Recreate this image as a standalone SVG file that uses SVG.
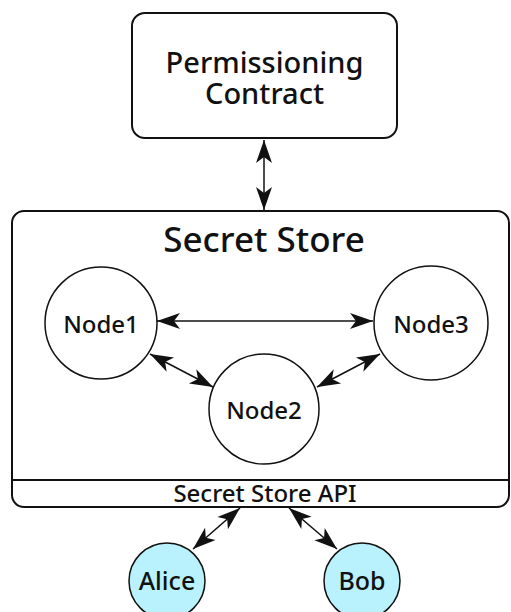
<svg xmlns="http://www.w3.org/2000/svg" width="511" height="612" viewBox="0 0 511 612">
<style>
text{font-family:"Noto Sans","Open Sans","Liberation Sans",sans-serif;fill:#111;text-anchor:middle;font-weight:500}
.box{fill:#fff;stroke:#111;stroke-width:2}
.node{fill:#fff;stroke:#111;stroke-width:1.5}
.user{fill:#b9f1fd;stroke:#111;stroke-width:1.5}
.lbl{font-size:24px}
.conn line{stroke:#111;stroke-width:1.5;marker-start:url(#ah);marker-end:url(#ah)}
</style>
<defs>
<marker id="ah" markerUnits="userSpaceOnUse" refX="0" refY="0" markerWidth="30" markerHeight="20" overflow="visible" orient="auto-start-reverse">
<path d="M0,0 L-23,-8 L-17,0 L-23,8 Z" fill="#111"/>
</marker>
</defs>
<rect width="511" height="612" fill="#fff"/>
<g id="permissioning">
<rect class="box" x="132" y="13" width="265" height="125" rx="13"/>
<text x="264.5" y="73" font-size="29">Permissioning</text>
<text x="264.5" y="104" font-size="29">Contract</text>
</g>
<g id="secret-store">
<rect class="box" x="12" y="211" width="497" height="296" rx="12"/>
<line x1="12" y1="480" x2="509" y2="480" stroke="#111" stroke-width="2"/>
<text x="264" y="252" font-size="35">Secret Store</text>
<text x="265" y="502" font-size="24">Secret Store API</text>
</g>
<g id="node1">
<circle class="node" cx="101" cy="323" r="56"/>
<text class="lbl" x="101" y="333">Node1</text>
</g>
<g id="node3">
<circle class="node" cx="431" cy="323" r="57"/>
<text class="lbl" x="431" y="333">Node3</text>
</g>
<g id="node2">
<circle class="node" cx="264" cy="409" r="55"/>
<text class="lbl" x="264" y="419">Node2</text>
</g>
<g id="alice">
<circle class="user" cx="167" cy="581" r="38"/>
<text x="167" y="590" font-size="25">Alice</text>
</g>
<g id="bob">
<circle class="user" cx="362" cy="581" r="38"/>
<text x="362" y="590" font-size="25">Bob</text>
</g>
<g id="connectors" class="conn">
<line x1="264" y1="140" x2="264" y2="210"/>
<line x1="157" y1="321" x2="373" y2="321"/>
<line x1="150" y1="354" x2="213" y2="387"/>
<line x1="380" y1="354" x2="317" y2="387"/>
<line x1="240" y1="508" x2="193" y2="549"/>
<line x1="289" y1="508" x2="337" y2="549"/>
</g>
</svg>
